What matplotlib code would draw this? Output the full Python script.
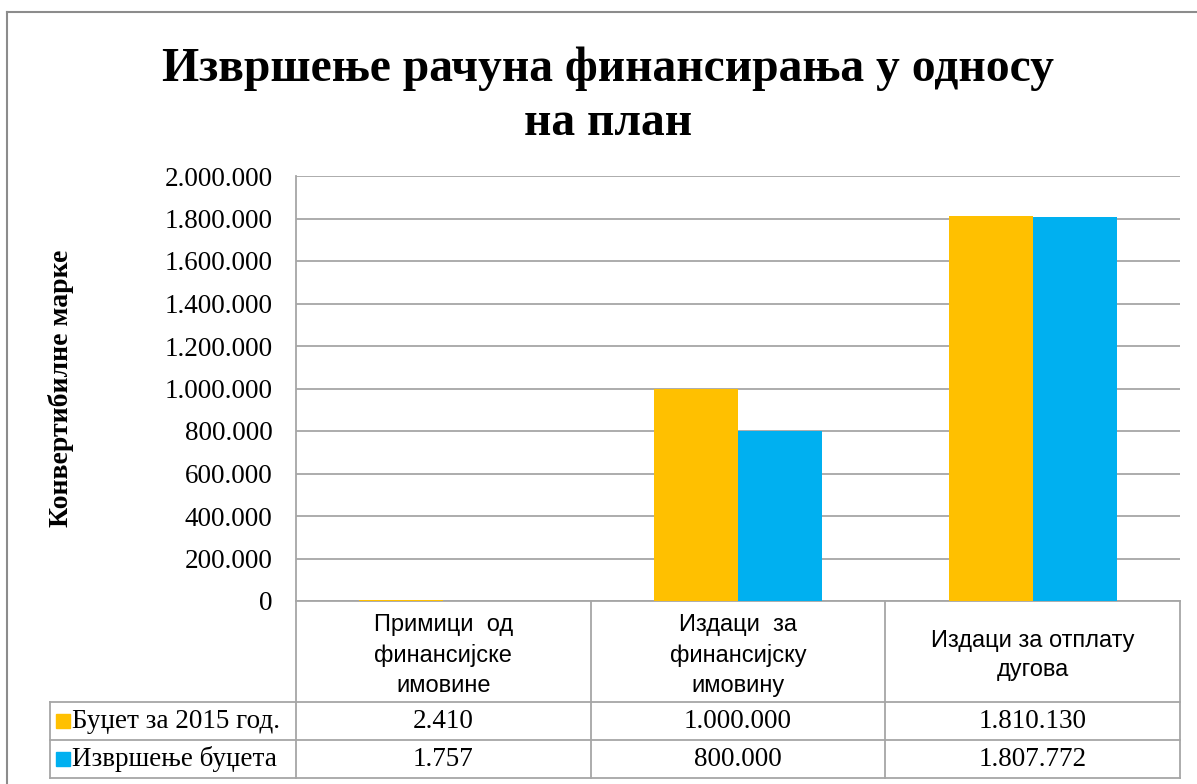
import numpy as np
import matplotlib.pyplot as plt
from matplotlib.transforms import blended_transform_factory

categories = ['Примици  од\nфинансијске\nимовине',
              'Издаци  за\nфинансијску\nимовину',
              'Издаци за отплату\nдугова']
series_names = ['Буџет за 2015 год.', 'Извршење буџета']
budget = [2410, 1000000, 1810130]
executed = [1757, 800000, 1807772]
colors = ['#FFC000', '#00B0F0']
yticks = np.arange(0, 2000001, 200000)

W, H = 1197, 784
serif = ['Liberation Serif', 'DejaVu Serif']
sans = ['Liberation Sans', 'DejaVu Sans']
grid_col = '#A6A6A6'


def fmt(v):
    return f'{v:,}'.replace(',', '.')


fig = plt.figure(figsize=(W / 100, H / 100), dpi=100)

# outer chart border (left and top, rest is cut off)
fig.add_artist(plt.Line2D([7 / W, 7 / W], [0, 1 - 12 / H], color='#8C8C8C', lw=1.5))
fig.add_artist(plt.Line2D([7 / W, 1], [1 - 12 / H, 1 - 12 / H], color='#8C8C8C', lw=1.5))

ax = fig.add_axes([296 / W, 1 - 601 / H, 884 / W, 425 / H])
x = np.arange(len(categories))
bw = 0.285
ax.bar(x - bw / 2, budget, bw, color=colors[0], zorder=3)
ax.bar(x + bw / 2, executed, bw, color=colors[1], zorder=3)

ax.set_xlim(-0.5, 2.5)
ax.set_ylim(0, 2000000)
ax.set_yticks(yticks)
ax.set_yticklabels([fmt(v) for v in yticks], family=serif, fontsize=19.5)
ax.tick_params(axis='y', length=0, pad=17)
ax.set_xticks([])
ax.yaxis.grid(True, color=grid_col, lw=1.3, zorder=0)
for s in ['top', 'right']:
    ax.spines[s].set_visible(False)
ax.spines['left'].set_color(grid_col)
ax.spines['left'].set_linewidth(1.3)
ax.spines['bottom'].set_color(grid_col)
ax.spines['bottom'].set_linewidth(1.3)

ax.set_ylabel('Конвертибилне марке', family=serif, fontsize=20, fontweight='bold')
ax.yaxis.set_label_coords(-222 / 884, 0.5)

fig.text(0.508, 1 - 96 / H, 'Извршење рачуна финансирања у односу\nна план',
         ha='center', va='center', family=serif, fontsize=34.3, fontweight='bold',
         linespacing=1.3)

# data table below the axis
tr = blended_transform_factory(ax.transData, ax.transAxes)
ph = 425.0
y_cat = -101 / ph
y_r1 = -139 / ph
y_r2 = -177 / ph
x_left = -0.5 - 246 / 294.7
edges = [-0.5, 0.5, 1.5, 2.5]
lk = dict(color=grid_col, lw=1.3, transform=tr, clip_on=False)
for e in edges:
    ax.plot([e, e], [0, y_r2], **lk)
ax.plot([x_left, x_left], [y_cat, y_r2], **lk)
for yy in [y_cat, y_r1, y_r2]:
    ax.plot([x_left, 2.5], [yy, yy], **lk)

for i, c in enumerate(categories):
    ax.text(i, y_cat / 2 - 4 / ph, c, ha='center', va='center', transform=tr,
            family=sans, fontsize=17, linespacing=1.47)

for row, (name, vals, col) in enumerate(zip(series_names, [budget, executed], colors)):
    yc = [(y_cat + y_r1) / 2, (y_r1 + y_r2) / 2][row]
    ax.plot([x_left + 0.043], [yc], marker='s', ms=10, color=col, transform=tr, clip_on=False)
    ax.text(x_left + 0.075, yc, name, ha='left', va='center', transform=tr,
            family=serif, fontsize=19.5)
    for i, v in enumerate(vals):
        ax.text(i, yc, fmt(v), ha='center', va='center', transform=tr,
                family=serif, fontsize=19.5)

fig.savefig('out.png', dpi=100)
